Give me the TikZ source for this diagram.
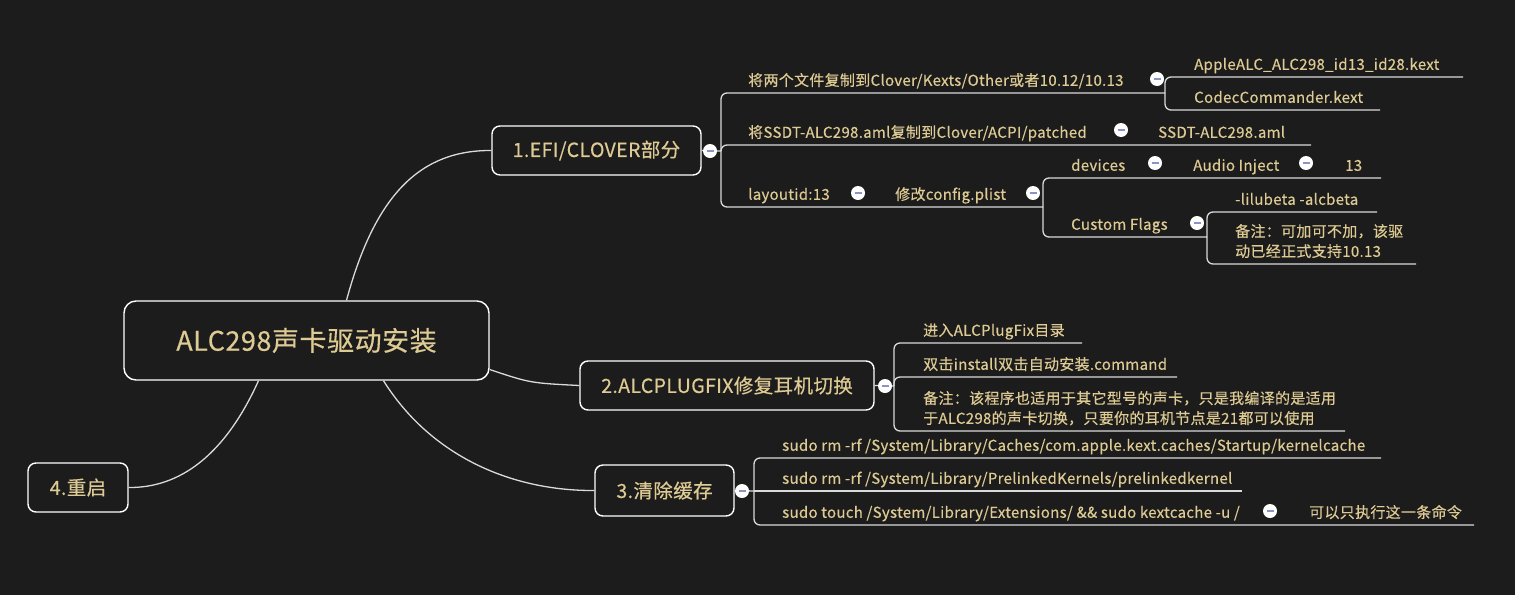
\documentclass[tikz,border=0pt]{standalone}
\usepackage{fontspec}
\setmainfont{Noto Sans CJK SC}[LetterSpace=2,FakeBold=0.35]
\usetikzlibrary{calc}
\definecolor{bg}{HTML}{1C1C1C}
\definecolor{gold}{HTML}{DECB93}
\definecolor{wire}{HTML}{DADADA}
\definecolor{btnmark}{HTML}{8D93C4}

\begin{document}
\begin{tikzpicture}[x=1pt,y=-1pt,
  every node/.style={text=gold},
  link/.style={draw=wire,line width=1.3pt,rounded corners=6pt},
  topic/.style={draw=white,line width=1.4pt,rounded corners=8pt,fill=bg,inner sep=0pt,font=\fontsize{19.5}{22}\selectfont},
  leaf/.style={anchor=south west,inner sep=0pt,text depth=3pt,align=left,font=\fontsize{15}{20}\selectfont},
  btn/.style={circle,fill=white,minimum size=14pt,inner sep=0pt,
    path picture={\draw[btnmark,line width=1.6pt] ($(path picture bounding box.center)+(-3.5,0)$) -- ($(path picture bounding box.center)+(3.5,0)$);}}]

\useasboundingbox (0,0) rectangle (1515,595);
\fill[bg] (0,0) rectangle (1515,595);

\node[topic,minimum width=365pt,minimum height=79pt,rounded corners=12pt,font=\fontsize{27}{30}\selectfont] (root) at (306.5,340.5) {ALC298声卡驱动安装};
\node[topic,minimum width=209pt,minimum height=49pt] (efi) at (596.5,150.5) {1.EFI/CLOVER部分};
\node[topic,minimum width=294pt,minimum height=49pt] (plug) at (727,385.5) {2.ALCPLUGFIX修复耳机切换};
\node[topic,minimum width=139pt,minimum height=51pt] (cache) at (664.5,490.5) {3.清除缓存};
\node[topic,minimum width=100pt,minimum height=49pt] (reboot) at (78,487.5) {4.重启};

\draw[link] ($(root.north)+(40,0)$) .. controls (375,195) and (420,150) .. (efi.west);
\draw[link] ($(root.east)+(0,29)$) .. controls (530,383) .. (plug.west);
\draw[link] ($(root.south)+(77,0)$) .. controls (430,455) and (510,491) .. (cache.west);
\draw[link] ($(root.south)+(-48,0)$) .. controls (225,455) and (180,488) .. (reboot.east);

\node[leaf] (copy) at (748,89) {将两个文件复制到Clover/Kexts/Other或者10.12/10.13};
\node[leaf] (alc) at (1194,73) {AppleALC\_ALC298\_id13\_id28.kext};
\node[leaf] (codec) at (1194,106) {CodecCommander.kext};
\node[leaf] (ssdtcopy) at (748,141) {将SSDT-ALC298.aml复制到Clover/ACPI/patched};
\node[leaf] (ssdt) at (1158,141) {SSDT-ALC298.aml};
\node[leaf] (layout) at (748,203) {layoutid:13};
\node[leaf] (config) at (895,203) {修改config.plist};
\node[leaf] (dev) at (1071,174) {devices};
\node[leaf] (audio) at (1193,174) {Audio Inject};
\node[leaf] (thirteen) at (1345,174) {13};
\node[leaf] (flags) at (1071,233) {Custom Flags};
\node[leaf] (lilu) at (1235,208) {-lilubeta -alcbeta};
\node[leaf] (fnote) at (1235,260) {备注：可加可不加，该驱\\动已经正式支持10.13};

\node[leaf] (enter) at (923,339) {进入ALCPlugFix目录};
\node[leaf] (install) at (923,373) {双击install双击自动安装.command};
\node[leaf] (pnote) at (923,427) {备注：该程序也适用于其它型号的声卡，只是我编译的是适用\\于ALC298的声卡切换，只要你的耳机节点是21都可以使用};

\node[leaf] (rm1) at (782,454) {sudo rm -rf /System/Library/Caches/com.apple.kext.caches/Startup/kernelcache};
\node[leaf] (rm2) at (782,487) {sudo rm -rf /System/Library/PrelinkedKernels/prelinkedkernel};
\node[leaf] (touch) at (782,521) {sudo touch /System/Library/Extensions/ \&\& sudo kextcache -u /};
\node[leaf] (only) at (1309,521) {可以只执行这一条命令};

\coordinate (jefi) at (721,151);
\coordinate (jcopy) at (1165,93);
\coordinate (alc-e) at (1463,77);
\coordinate (codec-e) at (1380,110);
\coordinate (jssdt) at (1130,145);
\coordinate (ssdt-e) at (1311,145);
\coordinate (jlayout) at (862,207);
\coordinate (jconfig) at (1043,207);
\coordinate (jdev) at (1147,178);
\coordinate (jaudio) at (1316,178);
\coordinate (thirteen-e) at (1381,178);
\coordinate (jflags) at (1207,237);
\coordinate (lilu-e) at (1377,212);
\coordinate (fnote-e) at (1416,264);
\coordinate (jplug) at (894,386);
\coordinate (enter-e) at (1082,343);
\coordinate (install-e) at (1177,377);
\coordinate (pnote-e) at (1345,431);
\coordinate (jcache) at (754,491);
\coordinate (rm1-e) at (1381,458);
\coordinate (rm2-e) at (1242,491);
\coordinate (jtouch) at (1279,525);
\coordinate (only-e) at (1474,525);

\draw[link] (efi.east) -- (jefi);
\draw[link] (jefi) |- (jcopy);
\draw[link] (jcopy) |- (alc-e);
\draw[link] (jcopy) |- (codec-e);
\draw[link] (jefi) |- (jssdt) -- (ssdt-e);
\draw[link] (jefi) |- (jlayout) -- (jconfig);
\draw[link] (jconfig) |- (jdev) -- (jaudio) -- (thirteen-e);
\draw[link] (jconfig) |- (jflags);
\draw[link] (jflags) |- (lilu-e);
\draw[link] (jflags) |- (fnote-e);

\draw[link] (plug.east) -- (jplug);
\draw[link] (jplug) |- (enter-e);
\draw[link] (jplug) |- (install-e);
\draw[link] (jplug) |- (pnote-e);

\draw[link] (cache.east) -- (jcache);
\draw[link] (jcache) |- (rm1-e);
\draw[link] (jcache) -- (rm2-e);
\draw[link] (jcache) |- (jtouch) -- (only-e);

\node[btn] (kefi) at (710,151) {};
\node[btn] (kcopy) at (1157,79) {};
\node[btn] (kssdt) at (1121,130) {};
\node[btn] (klayout) at (858,193) {};
\node[btn] (kconfig) at (1033,193) {};
\node[btn] (kdev) at (1155,163) {};
\node[btn] (kaudio) at (1306,163) {};
\node[btn] (kflags) at (1197,223) {};
\node[btn] (kplug) at (885,386) {};
\node[btn] (kcache) at (742,491) {};
\node[btn] (ktouch) at (1270,511) {};

\end{tikzpicture}
\end{document}
